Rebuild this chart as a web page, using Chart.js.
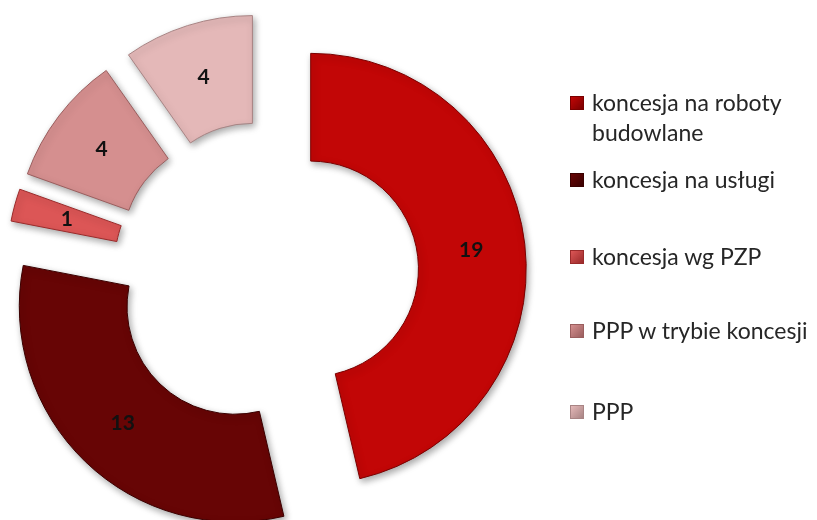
<!DOCTYPE html>
<html>
<head>
<meta charset="utf-8">
<script src="https://cdn.jsdelivr.net/npm/chart.js@4/dist/chart.umd.min.js"></script>
<style>
  html, body { margin: 0; padding: 0; background: #ffffff; }
  #wrap { position: relative; width: 817px; height: 520px; overflow: hidden; }
  #c { position: absolute; left: 0; top: 0; }
  .lg { position: absolute; left: 570px; font-family: Lato, "Open Sans", sans-serif; font-size: 23px; line-height: 30px; color: #262626; }
  .lg .m { position: absolute; left: 0; top: 9px; width: 14px; height: 14px; box-sizing: border-box; }
  .lg .t { position: absolute; left: 22px; top: 0; width: 240px; white-space: normal; }
</style>
</head>
<body>
<div id="wrap">
  <canvas id="c" width="817" height="520"></canvas>
</div>
<script>
// ---- data ----
const categories = ['koncesja na roboty budowlane', 'koncesja na usługi', 'koncesja wg PZP', 'PPP w trybie koncesji', 'PPP'];
const values = [19, 13, 1, 4, 4];
const sliceColors = ['#C20606', '#670505', '#DC5656', '#D58F8F', '#E4B8B8'];
const borderColors = ['#7A0000', '#3A0000', '#9A2A2A', '#9A5E5E', '#A88484'];
const legendTops = [87, 164, 241, 315, 396];

// ---- legend (HTML) ----
const wrap = document.getElementById('wrap');
categories.forEach((name, i) => {
  const item = document.createElement('div');
  item.className = 'lg';
  item.style.top = legendTops[i] + 'px';
  const m = document.createElement('div');
  m.className = 'm';
  m.style.background = 'linear-gradient(135deg, ' + sliceColors[i] + ' 0%, ' + borderColors[i] + ' 100%)';
  m.style.border = '1px solid ' + borderColors[i];
  const t = document.createElement('div');
  t.className = 't';
  t.textContent = name;
  item.appendChild(m);
  item.appendChild(t);
  wrap.appendChild(item);
});

// ---- exploded doughnut + value labels ----
const EXPLODE = 45;
const explodePlugin = {
  id: 'explode',
  beforeDatasetDraw(chart, args) {
    const ctx = chart.ctx;
    args.meta.data.forEach((arc) => {
      const mid = (arc.startAngle + arc.endAngle) / 2;
      ctx.save();
      ctx.translate(Math.cos(mid) * EXPLODE, Math.sin(mid) * EXPLODE);
      ctx.shadowColor = 'rgba(0,0,0,0.35)';
      ctx.shadowBlur = 7;
      ctx.shadowOffsetX = 2;
      ctx.shadowOffsetY = 3;
      arc.draw(ctx, chart.chartArea);
      ctx.restore();
    });
    return false;
  },
  afterDatasetsDraw(chart) {
    const ctx = chart.ctx;
    const meta = chart.getDatasetMeta(0);
    ctx.save();
    ctx.font = 'bold 21px Lato, "Open Sans", sans-serif';
    ctx.fillStyle = '#111111';
    ctx.textAlign = 'center';
    ctx.textBaseline = 'middle';
    meta.data.forEach((arc, i) => {
      const mid = (arc.startAngle + arc.endAngle) / 2;
      const p = arc.tooltipPosition();
      ctx.fillText(String(chart.data.datasets[0].data[i]),
        p.x + Math.cos(mid) * EXPLODE, p.y + Math.sin(mid) * EXPLODE);
    });
    ctx.restore();
  }
};

new Chart(document.getElementById('c'), {
  type: 'doughnut',
  data: {
    labels: categories,
    datasets: [{
      data: values,
      backgroundColor: sliceColors,
      borderColor: borderColors,
      borderWidth: 1,
      hoverOffset: 0,
      offset: 0
    }]
  },
  options: {
    responsive: false,
    animation: false,
    events: [],
    cutout: '50%',
    layout: { padding: { left: 50, top: 58, right: 335, bottom: 30 } },
    plugins: {
      legend: { display: false },
      tooltip: { enabled: false },
      title: { display: false }
    }
  },
  plugins: [explodePlugin]
});
</script>
</body>
</html>
